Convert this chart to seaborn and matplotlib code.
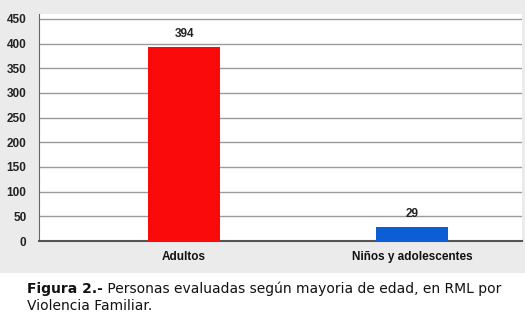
import numpy as np
import pandas as pd
import matplotlib
matplotlib.use("Agg")
import matplotlib.pyplot as plt
import seaborn as sns
from matplotlib.patches import Rectangle

# Datos
categorias = ["Adultos", "Niños y adolescentes"]
valores = [394, 29]
colores = ["#fa0a0a", "#0b5ed4"]
ticks_y = list(range(0, 451, 50))

df = pd.DataFrame({"grupo": categorias, "n": valores})

sns.set_style("white")
plt.rcParams["font.family"] = ["Liberation Sans", "DejaVu Sans"]

fig = plt.figure(figsize=(5.25, 3.18), dpi=100)
fig.patch.set_facecolor("white")
# fondo gris de la zona del grafico
fig.add_artist(Rectangle((0, 1 - 273 / 318), 1, 273 / 318, transform=fig.transFigure,
                         facecolor="#ebebeb", edgecolor="none", zorder=0))

ax = fig.add_axes([39 / 525, 1 - 241 / 318, (522 - 39) / 525, (241 - 14) / 318])
ax.set_facecolor("white")

sns.barplot(data=df, x="grupo", y="n", hue="grupo", palette=colores,
            saturation=1, width=0.316, linewidth=0, legend=False, ax=ax, zorder=3)

ax.set_ylim(0, 460)
ax.set_xlim(-0.636, 1.48)
ax.set_yticks(ticks_y)
ax.set_yticklabels([str(t) for t in ticks_y], fontsize=8.5, fontweight="bold", color="#222222")
ax.set_xticks(range(len(categorias)))
ax.set_xticklabels(categorias, fontsize=8.5, fontweight="bold", color="#111111")
ax.tick_params(axis="y", length=4, width=1, color="#777777", pad=5)
ax.tick_params(axis="x", length=0, pad=7)
ax.grid(axis="y", color="#9a9a9a", linewidth=1, zorder=0)
ax.set_xlabel("")
ax.set_ylabel("")

for s in ["top", "right"]:
    ax.spines[s].set_visible(False)
ax.spines["left"].set_color("#666666")
ax.spines["bottom"].set_color("#555555")
ax.spines["bottom"].set_linewidth(1.5)

# etiquetas de valor
for i, v in enumerate(valores):
    ax.annotate(str(v), (i, v), xytext=(0, 5), textcoords="offset points",
                ha="center", va="bottom", fontsize=8.5, fontweight="bold", color="#222222")

# pie de figura
t1 = fig.text(27 / 525, 1 - 293 / 318, "Figura 2.-", fontsize=10, fontweight="bold",
              family=["DejaVu Sans"], color="#111111", va="baseline")
ax.annotate(" Personas evaluadas según mayoria de edad, en RML por", xy=(1, 0),
            xycoords=t1, fontsize=10, family=["DejaVu Sans"], color="#111111",
            va="bottom", annotation_clip=False)
fig.text(27 / 525, 1 - 310 / 318, "Violencia Familiar.", fontsize=10,
         family=["DejaVu Sans"], color="#111111", va="baseline")

fig.savefig("out.png", dpi=100)
